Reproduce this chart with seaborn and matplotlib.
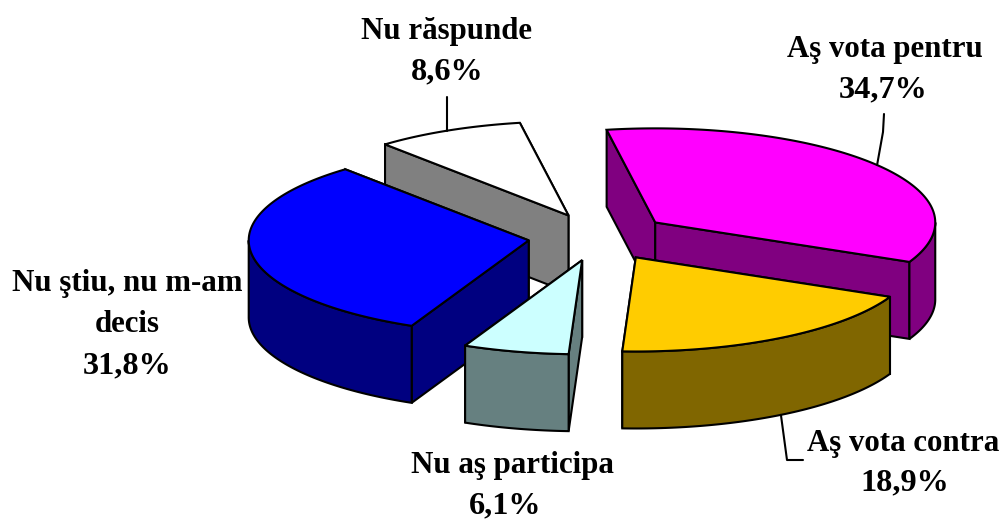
import numpy as np
import matplotlib
matplotlib.use("Agg")
import matplotlib.pyplot as plt
import seaborn as sns

# data
names = ["Aş vota pentru", "Aş vota contra", "Nu aş participa", "Nu ştiu, nu m-am\ndecis", "Nu răspunde"]
shares = [34.7, 18.9, 6.1, 31.8, 8.6]
top_colors = ["#FF00FF", "#FFCC00", "#CCFFFF", "#0000FF", "#FFFFFF"]
side_colors = ["#800080", "#806600", "#668080", "#000080", "#808080"]

# layout
CX, CY = 599, 237
RX, K, DEPTH, EXPLODE = 280, 0.336, 77, 71
START = -10.0
LW = 1.5
FS = 22.2
FS_PCT = 23.2
# one entry per text line: (x, y) centres
name_pos = [[(885, 49)], [(903, 443)], [(512, 466)], [(127, 283), (127, 325)], [(447, 31)]]
pct_pos = [(883, 90), (905, 483), (505, 506), (127, 366), (447, 72)]
# leader elbows, from the slice's mid-arc point outwards
leaders = {0: [(883, 132), (884, 114)], 1: [(787, 460), (803, 460)], 4: [(447, 97)]}

sns.set_theme(style="white")
plt.rcParams["font.family"] = ["Liberation Serif", "DejaVu Serif"]
fig = plt.figure(figsize=(10.03, 5.21), dpi=100)
ax = fig.add_axes([0, 0, 1, 1])
ax.set_xlim(0, 1003)
ax.set_ylim(521, 0)
ax.axis("off")
sns.despine(ax=ax, left=True, bottom=True)


def arc(apex, a0, a1, n=120):
    t = np.radians(np.linspace(a0, a1, n))
    return apex[0] + RX * np.sin(t), apex[1] - RX * K * np.cos(t)


def poly(x, y, c, z):
    ax.fill(x, y, facecolor=c, edgecolor="black", linewidth=LW, joinstyle="miter", zorder=z)


total = sum(shares)
edges = START + np.concatenate([[0], np.cumsum(shares)]) * 360 / total
slices = []
for i in range(len(shares)):
    a0, a1 = edges[i], edges[i + 1]
    mid = np.radians((a0 + a1) / 2)
    apex = (CX + EXPLODE * np.sin(mid), CY - EXPLODE * K * np.cos(mid))
    slices.append((apex[1], i, a0, a1, apex, mid))

z = 1
for _, i, a0, a1, apex, mid in sorted(slices):
    side = side_colors[i]
    # radial walls, far one first
    walls = []
    for a in (a0, a1):
        ex, ey = arc(apex, a, a, 1)
        ex, ey = ex[0], ey[0]
        walls.append(((apex[1] + ey) / 2, ex, ey))
    for _w, ex, ey in sorted(walls):
        poly([apex[0], ex, ex, apex[0]], [apex[1], ey, ey + DEPTH, apex[1] + DEPTH], side, z)
        z += 1
    # outer wall, front half only
    lo, hi = max(a0, 90), min(a1, 270)
    if lo < hi:
        ax_, ay_ = arc(apex, lo, hi)
        poly(np.r_[ax_, ax_[::-1]], np.r_[ay_, ay_[::-1] + DEPTH], side, z)
        z += 1
    # top
    tx, ty = arc(apex, a0, a1)
    poly(np.r_[apex[0], tx], np.r_[apex[1], ty], top_colors[i], z)
    z += 1
    # leader
    if i in leaders:
        sx = apex[0] + RX * np.sin(mid)
        sy = apex[1] - RX * K * np.cos(mid)
        if np.cos(mid) < 0:
            sy += DEPTH
        pts = [(sx, sy)] + leaders[i]
        if i == 4:
            pts[0] = (leaders[i][0][0], sy)
        ax.plot([p[0] for p in pts], [p[1] for p in pts], color="black", lw=LW, zorder=100)

for i, name in enumerate(names):
    for line, (x, y) in zip(name.split("\n"), name_pos[i]):
        ax.text(x, y, line, ha="center", va="center", fontsize=FS, fontweight="bold", color="black", zorder=200)
    x, y = pct_pos[i]
    ax.text(x, y, f"{shares[i]:.1f}%".replace(".", ","), ha="center", va="center",
            fontsize=FS_PCT, fontweight="bold", color="black", zorder=200)

fig.savefig("out.png", dpi=100, facecolor="white")
